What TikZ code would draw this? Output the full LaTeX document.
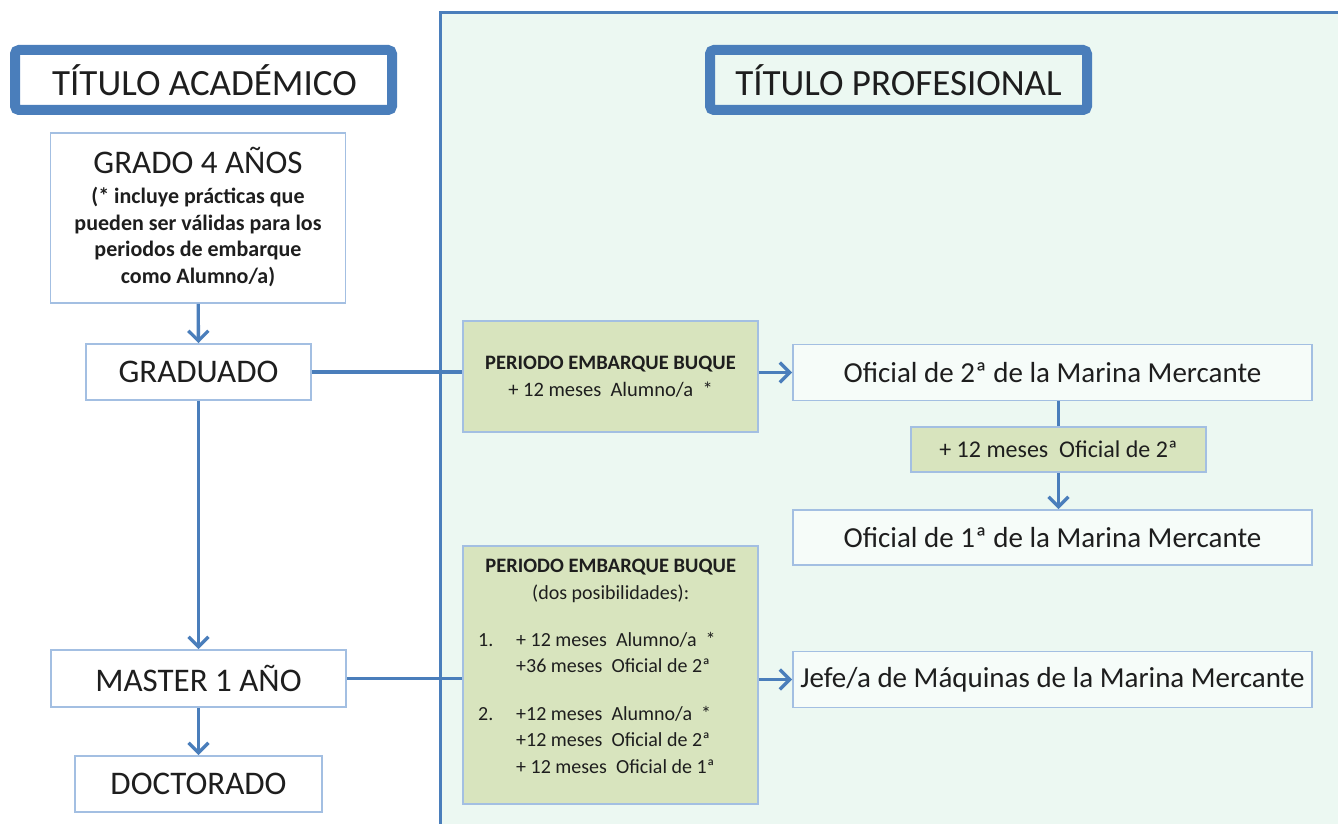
\documentclass[tikz,border=0pt]{standalone}
\usepackage{fontspec}
\setmainfont{Carlito}
\usetikzlibrary{arrows.meta}
\definecolor{lineblue}{HTML}{4A7EBB}
\definecolor{boxblue}{HTML}{A3BFE2}
\definecolor{panelfill}{HTML}{ECF8F2}
\definecolor{greenfill}{HTML}{D8E4BE}
\definecolor{txt}{HTML}{1E1E1E}
\tikzset{
  titlebox/.style={draw=lineblue, line width=10pt, rounded corners=4pt, inner sep=0pt},
  plainbox/.style={draw=boxblue, line width=1.8pt, inner sep=0pt, align=center, text=txt},
  greenbox/.style={draw=boxblue, line width=1.8pt, fill=greenfill, inner sep=0pt, align=center, text=txt},
  conn/.style={draw=lineblue, line width=3.3pt},
  arr/.style={conn, -{Straight Barb[length=10pt,width=20pt,line width=3.3pt]}},
  ftitle/.style={font=\fontsize{37}{40}\selectfont},
  fbig/.style={font=\fontsize{33}{36}\selectfont},
  fmid/.style={font=\fontsize{29}{33}\selectfont},
  fsmall/.style={font=\fontsize{20.5}{26.5}\selectfont},
}
\begin{document}
\begin{tikzpicture}[x=1pt,y=-1pt]
\useasboundingbox (0,0) rectangle (1338,824);
\fill[white] (0,0) rectangle (1338,824);
% professional panel
\fill[panelfill] (440,13) rectangle (1345,830);
\draw[lineblue, line width=3pt] (1345,13) -- (440,13) -- (440,830);

% titles
\draw[titlebox] (15,50) rectangle (392,110);
\node[ftitle, text=txt] (tacad) at (204.5,80) {TÍTULO ACADÉMICO};
\draw[titlebox] (710,50) rectangle (1087,110);
\node[ftitle, text=txt] (tprof) at (898.5,80) {TÍTULO PROFESIONAL};

% left column
\node[plainbox, fill=white, minimum width=295, minimum height=170] (grado) at (198,218) {};
\node[fbig, text=txt, inner sep=0pt] (gradotit) at (198,160) {GRADO 4 AÑOS};
\node[text=txt, align=center, inner sep=0pt, font=\fontsize{22}{26.5}\selectfont\bfseries] (gradotxt) at (198,237)
  {(* incluye prácticas que\\ pueden ser válidas para los\\ periodos de embarque\\ como Alumno/a)};
\node[plainbox, fill=white, fbig, minimum width=225, minimum height=56] (graduado) at (198.5,372) {GRADUADO};
\node[plainbox, fill=white, fbig, minimum width=295, minimum height=57] (master) at (198.5,678.5) {MASTER 1 AÑO};
\node[plainbox, fill=white, fbig, minimum width=247, minimum height=56] (doctor) at (198.5,784) {DOCTORADO};

% green boxes
\node[greenbox, minimum width=295, minimum height=111] (peb1) at (610.5,376.5) {};
\node[text=txt, align=center, inner sep=0pt, fsmall] (peb1txt) at (610.5,376.5)
  {\textbf{PERIODO EMBARQUE BUQUE}\\ + 12 meses\ \ Alumno/a\ \ *};
\node[greenbox, minimum width=295, minimum height=258] (peb2) at (610.5,675) {};
\node[text=txt, align=left, inner sep=0pt, anchor=north west, font=\fontsize{20}{26.4}\selectfont] (peb2txt) at (463,559)
  {\makebox[295pt][c]{\fontsize{20.5}{26.4}\selectfont\bfseries PERIODO EMBARQUE BUQUE}\\
   \makebox[295pt][c]{(dos posibilidades):}\\[21pt]
   \hspace*{15pt}\makebox[38pt][l]{1.}+ 12 meses\ \ Alumno/a\ \ *\\
   \hspace*{53pt}+36 meses\ \ Oficial de 2ª\\[21pt]
   \hspace*{15pt}\makebox[38pt][l]{2.}+12 meses\ \ Alumno/a\ \ *\\
   \hspace*{53pt}+12 meses\ \ Oficial de 2ª\\
   \hspace*{53pt}+ 12 meses\ \ Oficial de 1ª};
\node[greenbox, font=\fontsize{24}{28}\selectfont, minimum width=295, minimum height=45] (mes2) at (1058.5,449.5) {+ 12 meses\ \ Oficial de 2ª};

% right boxes
\node[plainbox, fill=white!55!panelfill, fmid, minimum width=519, minimum height=56] (of2) at (1052.5,372.5) {Oficial de 2ª de la Marina Mercante};
\node[plainbox, fill=white!55!panelfill, fmid, minimum width=519, minimum height=55] (of1) at (1052.5,537.5) {Oficial de 1ª de la Marina Mercante};
\node[plainbox, fill=white!55!panelfill, fmid, minimum width=519, minimum height=56] (jefe) at (1052.5,679.5) {Jefe/a de Máquinas de la Marina Mercante};

% connectors
\draw[arr] (grado) -- (graduado);
\draw[arr] (graduado) -- (master);
\draw[arr] (master) -- (doctor);
\draw[conn] (graduado.east) -- (peb1.west |- graduado.east);
\draw[conn] (master.east) -- (peb2.west |- master.east);
\draw[arr] (peb1.east |- of2.west) -- (of2.west);
\draw[arr] (peb2.east |- jefe.west) -- (jefe.west);
\draw[conn] (of2.south -| mes2.north) -- (mes2.north);
\draw[arr] (mes2.south) -- (of1.north -| mes2.south);
\end{tikzpicture}
\end{document}
